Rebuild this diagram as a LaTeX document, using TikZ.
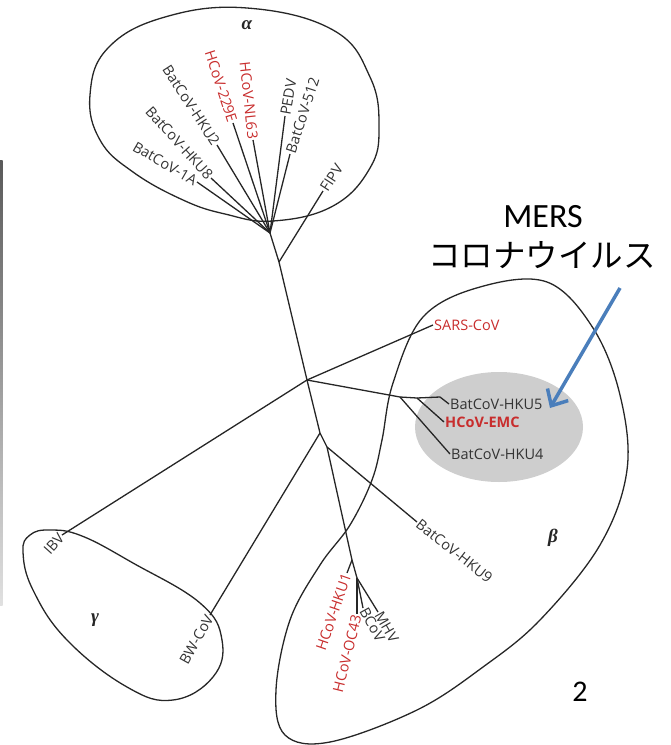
\documentclass[tikz,border=0pt]{standalone}
\usepackage{fontspec}
\setmainfont{Open Sans}
\newfontfamily\calibfont{Carlito}
\newfontfamily\jpfont{Noto Sans CJK JP}
\newfontfamily\grkfont{Liberation Serif}
\usetikzlibrary{arrows.meta}
\definecolor{lblred}{RGB}{200,45,45}
\definecolor{mersgray}{RGB}{206,206,206}
\definecolor{arrowblue}{RGB}{74,126,187}
\begin{document}
\begin{tikzpicture}[x=1pt,y=-1pt,
  br/.style={line width=1.3pt, black!85},
  blob/.style={line width=1.3pt, black!85},
  lbl/.style={font=\fontsize{14.5}{14.5}\selectfont, inner sep=1pt, text=black!80},
  rlbl/.style={lbl, text=lblred},
  grk/.style={font=\grkfont\bfseries\itshape\fontsize{19}{19}\selectfont, text=black!85},
  big/.style={font=\calibfont\fontsize{34}{34}\selectfont},
  jp/.style={font=\jpfont\fontsize{32.5}{32.5}\selectfont}
]
\useasboundingbox (0,0) rectangle (670,745);
\shade[top color=black!65, bottom color=black!12] (0,160) rectangle (2.5,605);

% MERS grey ellipse
\fill[mersgray] (499,427) ellipse [x radius=84pt, y radius=55pt];

% clade outlines
\draw[blob] plot[smooth cycle, tension=0.7] coordinates {(247,8) (333,30) (370,77) (379,127) (370,168) (333,206) (273,221) (225,214) (183,200) (133,172) (100,140) (90,95) (108,48) (165,17)};
\draw[blob] plot[smooth cycle, tension=0.7] coordinates {(50,530) (82,536) (133,563) (200,603) (222,640) (213,677) (173,700) (127,687) (67,640) (33,590) (23,552) (30,535)};
\draw[blob] plot[smooth cycle, tension=0.6] coordinates {(547,282) (593,328) (620,395) (627,470) (600,545) (540,620) (483,667) (417,710) (330,742) (285,735) (276,690) (290,620) (320,565) (350,525) (372,480) (382,440) (393,383) (423,317) (480,287)};

% clade names
\node[grk] (alpha) at (247,25) {α};
\node[grk] (gamma) at (95,620) {γ};
\node[grk] (beta) at (553,538) {β};

% junctions
\coordinate (a1) at (270,233);
\coordinate (a2) at (279,262);
\coordinate (c) at (307,380);
\coordinate (g1) at (320,433);
\coordinate (b2) at (327,447);
\coordinate (b3) at (352,560);
\coordinate (b4) at (357,578);
\coordinate (m1) at (400,397);
\coordinate (m2) at (417,398);
\coordinate (m3) at (440,397);

% alpha labels
\node[lbl, anchor=east, rotate=-30] (n1A) at (197,182) {BatCoV-1A};
\node[lbl, anchor=east, rotate=-48] (nHKU8) at (211,178) {BatCoV-HKU8};
\node[lbl, anchor=east, rotate=-57] (nHKU2) at (217,145) {BatCoV-HKU2};
\node[rlbl, anchor=east, rotate=-72] (n229E) at (233,123) {HCoV-229E};
\node[rlbl, anchor=east, rotate=-84] (nNL63) at (253,140) {HCoV-NL63};
\node[lbl, anchor=west, rotate=80] (nPEDV) at (285,116) {PEDV};
\node[lbl, anchor=west, rotate=72] (n512) at (290,154) {BatCoV-512};
\node[lbl, anchor=west, rotate=57] (nFIPV) at (323,191) {FIPV};

% gamma labels
\node[lbl, anchor=east, rotate=48] (nIBV) at (62,535) {IBV};
\node[lbl, anchor=east, rotate=61] (nBW) at (210,615) {BW-CoV};

% beta labels
\node[rlbl, anchor=west] (nSARS) at (433,325) {SARS-CoV};
\node[lbl, anchor=west] (nHKU5) at (449,404) {BatCoV-HKU5};
\node[rlbl, anchor=west, font=\bfseries\fontsize{14.5}{14.5}\selectfont] (nEMC) at (444,422) {HCoV-EMC};
\node[lbl, anchor=west] (nHKU4) at (450,454) {BatCoV-HKU4};
\node[lbl, anchor=west, rotate=-38] (nHKU9) at (417,522) {BatCoV-HKU9};
\node[rlbl, anchor=east, rotate=71] (nHKU1) at (347,573) {HCoV-HKU1};
\node[rlbl, anchor=east, rotate=76] (nOC43) at (357,614) {HCoV-OC43};
\node[lbl, anchor=west, rotate=-61] (nBCoV) at (363,608) {BCoV};
\node[lbl, anchor=west, rotate=-60] (nMHV) at (378,612) {MHV};

% tree branches
\draw[br] (a1) -- (a2) -- (c);
\draw[br] (a2) -- (nFIPV.west);
\foreach \n in {n1A,nHKU8,nHKU2,n229E,nNL63} \draw[br] (a1) -- (\n.east);
\foreach \n in {nPEDV,n512} \draw[br] (a1) -- (\n.west);
\draw[br] (c) -- (nSARS.west);
\draw[br] (c) -- (nIBV.east);
\draw[br] (c) -- (g1) -- (b2) -- (b3) -- (b4);
\draw[br] (g1) -- (nBW.east);
\draw[br] (b2) -- (nHKU9.west);
\draw[br] (b3) -- (nHKU1.east);
\draw[br] (b4) -- (nBCoV.west);
\draw[br] (b4) -- (nOC43.east);
\draw[br] (b4) -- (nMHV.west);
\draw[br] (c) -- (m1) -- (m2) -- (m3) -- (nHKU5.west);
\draw[br] (m1) -- (nHKU4.west);
\draw[br] (m2) -- (nEMC.west);

% MERS annotation
\node[big] (mers) at (543,217) {MERS};
\node[jp] (corona) at (542,255) {コロナウイルス};
\coordinate (arS) at (620,288);
\coordinate (arE) at (550,408);
\draw[arrowblue, line width=3.5pt, -{Straight Barb[length=13pt,width=24pt]}] (arS) -- (arE);

% page number
\node[font=\calibfont\fontsize{30}{30}\selectfont] (pg) at (580,692) {2};
\end{tikzpicture}
\end{document}
